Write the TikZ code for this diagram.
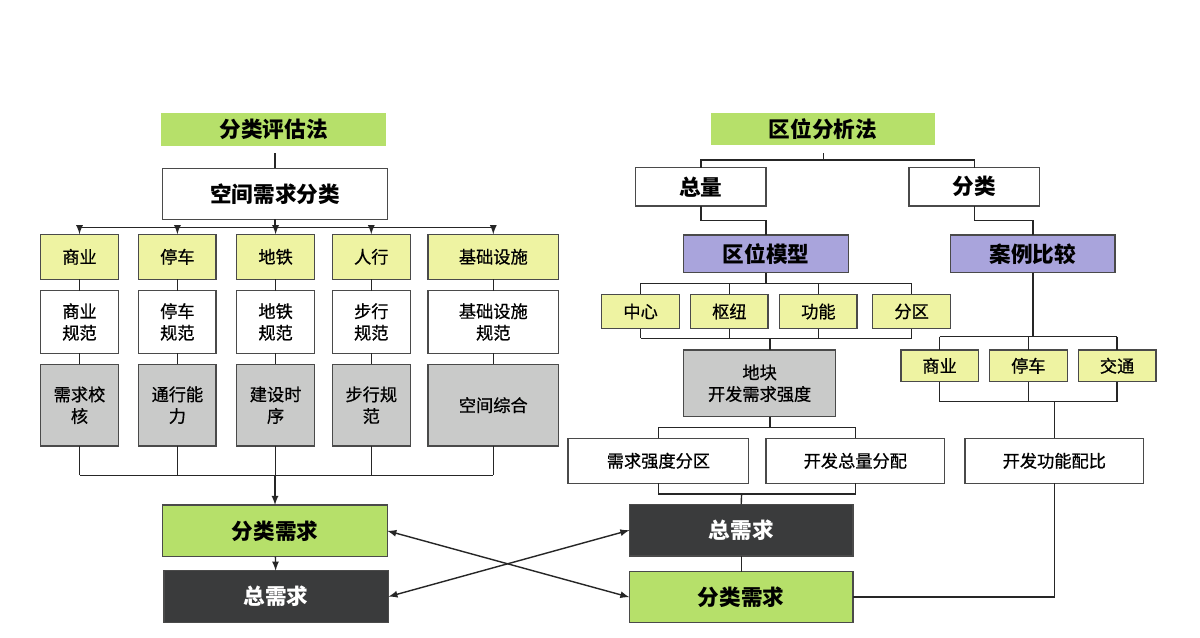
\documentclass[tikz,border=0pt]{standalone}
\usepackage{fontspec}
\setmainfont{Noto Sans CJK SC}
\newfontfamily\medfont[FakeBold=0.7]{Noto Sans CJK SC}
\usetikzlibrary{arrows}

\definecolor{titlegreen}{HTML}{B6E06A}
\definecolor{catyellow}{HTML}{EEF3A2}
\definecolor{modelpurple}{HTML}{A9A4DC}
\definecolor{stepgray}{HTML}{C9CAC9}
\definecolor{darkfill}{HTML}{3A3B3C}
\definecolor{boxline}{HTML}{4A4A4A}

\newcommand{\labbig}{\fontsize{12.3}{14}\selectfont\bfseries}
\newcommand{\labsmall}{\fontsize{9.8}{12.3}\selectfont\medfont}

\tikzset{
  box/.style={draw=boxline,line width=0.8pt,inner sep=0pt,outer sep=0pt,align=center},
  titlebox/.style={fill=titlegreen,inner sep=0pt,outer sep=0pt,font=\labbig},
  mainbox/.style={box,fill=white,font=\labbig},
  catbox/.style={box,fill=catyellow,font=\labsmall},
  normbox/.style={box,fill=white,font=\labsmall},
  graybox/.style={box,fill=stepgray,font=\labsmall},
  modelbox/.style={box,fill=modelpurple,font=\labbig},
  greenbox/.style={box,fill=titlegreen,font=\labbig},
  darkbox/.style={box,fill=darkfill,text=white,font=\labbig},
  link/.style={draw=black!85,line width=0.8pt},
}

\begin{document}
\begin{tikzpicture}[x=0.02cm,y=-0.02cm,>=latex]
  \fill[white] (0,0) rectangle (1200,638);
  \useasboundingbox (0,0) rectangle (1200,638);

  % left: classification method
  \node[titlebox,minimum width=4.49cm,minimum height=0.66cm] (tA) at (273.7,129.2) {分类评估法};
  \node[mainbox,minimum width=4.49cm,minimum height=1.02cm] (kj) at (275,193.8) {空间需求分类};

  \node[catbox,minimum width=1.55cm,minimum height=0.90cm] (sy) at (79.5,256.8) {商业};
  \node[catbox,minimum width=1.55cm,minimum height=0.90cm] (tc) at (177.4,256.8) {停车};
  \node[catbox,minimum width=1.56cm,minimum height=0.90cm] (dt) at (275.6,256.8) {地铁};
  \node[catbox,minimum width=1.56cm,minimum height=0.90cm] (rx) at (371.3,256.8) {人行};
  \node[catbox,minimum width=2.62cm,minimum height=0.90cm] (jc) at (493.3,256.8) {基础设施};

  \node[normbox,minimum width=1.55cm,minimum height=1.25cm] (syg) at (79.5,322) {商业\\规范};
  \node[normbox,minimum width=1.55cm,minimum height=1.25cm] (tcg) at (177.4,322) {停车\\规范};
  \node[normbox,minimum width=1.56cm,minimum height=1.25cm] (dtg) at (275.6,322) {地铁\\规范};
  \node[normbox,minimum width=1.56cm,minimum height=1.25cm] (rxg) at (371.3,322) {步行\\规范};
  \node[normbox,minimum width=2.62cm,minimum height=1.25cm] (jcg) at (493.3,322) {基础设施\\规范};

  \node[graybox,minimum width=1.55cm,minimum height=1.63cm] (syh) at (79.5,405.2) {需求校\\核};
  \node[graybox,minimum width=1.55cm,minimum height=1.63cm] (tch) at (177.4,405.2) {通行能\\力};
  \node[graybox,minimum width=1.56cm,minimum height=1.63cm] (dth) at (275.6,405.2) {建设时\\序};
  \node[graybox,minimum width=1.56cm,minimum height=1.63cm] (rxh) at (371.3,405.2) {步行规\\范};
  \node[graybox,minimum width=2.62cm,minimum height=1.63cm] (jch) at (493.3,405.2) {空间综合};

  \node[greenbox,minimum width=4.49cm,minimum height=1.03cm] (flA) at (275,530.8) {分类需求};
  \node[darkbox,minimum width=4.49cm,minimum height=1.04cm] (zlA) at (276.1,596.7) {总需求};

  % right: location method
  \node[titlebox,minimum width=4.47cm,minimum height=0.65cm] (tB) at (822.9,129) {区位分析法};
  \node[mainbox,minimum width=2.61cm,minimum height=0.77cm] (zl) at (700.8,186.8) {总量};
  \node[mainbox,minimum width=2.61cm,minimum height=0.77cm] (fl) at (974.3,186.8) {分类};
  \node[modelbox,minimum width=3.29cm,minimum height=0.75cm] (qw) at (766,253.8) {区位模型};
  \node[modelbox,minimum width=3.29cm,minimum height=0.75cm] (al) at (1032.9,253.8) {案例比较};

  \node[catbox,minimum width=1.56cm,minimum height=0.69cm] (zx) at (640.6,311.5) {中心};
  \node[catbox,minimum width=1.55cm,minimum height=0.69cm] (sn) at (729.4,311.5) {枢纽};
  \node[catbox,minimum width=1.55cm,minimum height=0.69cm] (gn) at (818.4,311.5) {功能};
  \node[catbox,minimum width=1.56cm,minimum height=0.69cm] (fq) at (911.6,311.5) {分区};

  \node[graybox,minimum width=3.04cm,minimum height=1.33cm] (dk) at (759.6,383.3) {地块\\开发需求强度};

  \node[catbox,minimum width=1.55cm,minimum height=0.63cm] (syB) at (939.6,365.8) {商业};
  \node[catbox,minimum width=1.56cm,minimum height=0.63cm] (tcB) at (1028.4,365.8) {停车};
  \node[catbox,minimum width=1.55cm,minimum height=0.63cm] (jt) at (1117.1,365.8) {交通};

  \node[normbox,minimum width=3.61cm,minimum height=0.90cm] (qd) at (658.4,460.8) {需求强度分区};
  \node[normbox,minimum width=3.57cm,minimum height=0.90cm] (kz) at (855.3,460.8) {开发总量分配};
  \node[normbox,minimum width=3.58cm,minimum height=0.90cm] (pb) at (1054.3,460.8) {开发功能配比};

  \node[darkbox,minimum width=4.47cm,minimum height=1.03cm] (zlB) at (741.2,530.2) {总需求};
  \node[greenbox,minimum width=4.47cm,minimum height=1.02cm] (flB) at (741.2,597.2) {分类需求};

  % left connectors
  \draw[link] (kj.north) -- ++(0,-15);
  \coordinate (b1) at (275,227.7);
  \draw[link] (kj.south) -- (b1);
  \draw[link] (sy |- b1) -- (jc |- b1);
  \foreach \n in {sy,tc,dt,rx,jc}
    \draw[link,->] (\n |- b1) -- (\n.north);
  \foreach \n in {sy,tc,dt,rx,jc}{
    \draw[link] (\n.south) -- (\n g.north);
    \draw[link] (\n g.south) -- (\n h.north);
  }
  \coordinate (b2) at (275,475.3);
  \foreach \n in {syh,tch,dth,rxh,jch}
    \draw[link] (\n.south) -- (\n |- b2);
  \draw[link] (syh |- b2) -- (jch |- b2);
  \draw[link,->] (flA.north |- b2) -- (flA.north);
  \draw[link,->] (flA) -- (zlA);

  % cross arrows
  \draw[link,<->] (flA.east) -- (flB.west);
  \draw[link,<->] (zlA.east) -- (zlB.west);

  % right connectors
  \coordinate (b3) at (823.3,160);
  \draw[link] (b3) -- ++(0,-6.7);
  \draw[link] (zl.north) -- (zl.north |- b3) -- (fl.north |- b3) -- (fl.north);
  \draw[link] (zl.south) -- ++(0,14.7) -| (qw.north);
  \draw[link] (fl.south) -- ++(0,14.7) -| (al.north);

  \coordinate (b4) at (766,283.3);
  \draw[link] (qw.south) -- (b4);
  \draw[link] (zx |- b4) -- (fq |- b4);
  \foreach \n in {zx,sn,gn,fq}
    \draw[link] (\n |- b4) -- (\n.north);
  \coordinate (b5) at (770,338.3);
  \foreach \n in {zx,sn,gn,fq}
    \draw[link] (\n.south) -- (\n |- b5);
  \draw[link] (zx |- b5) -- (fq |- b5);
  \draw[link] (b5) -- (b5 |- dk.north);

  \coordinate (b6) at (1033.5,336.7);
  \draw[link] (al.south) -- (al.south |- b6);
  \draw[link] (syB |- b6) -- (jt |- b6);
  \foreach \n in {syB,tcB,jt}
    \draw[link] (\n |- b6) -- (\n.north);
  \coordinate (b7) at (1053.9,401.7);
  \foreach \n in {syB,tcB,jt}
    \draw[link] (\n.south) -- (\n |- b7);
  \draw[link] (syB |- b7) -- (jt |- b7);
  \draw[link] (pb.north |- b7) -- (pb.north);

  \coordinate (b8) at (770,427.3);
  \draw[link] (b8 |- dk.south) -- (b8);
  \draw[link] (qd |- b8) -- (kz |- b8);
  \draw[link] (qd |- b8) -- (qd.north);
  \draw[link] (kz |- b8) -- (kz.north);
  \coordinate (b9) at (741.6,494);
  \draw[link] (qd.south) -- (qd |- b9) -- (kz |- b9) -- (kz.south);
  \draw[link] (b9) -- (zlB.north);
  \draw[link] (zlB) -- (flB);
  \draw[link] (pb.south) |- (flB.east);
\end{tikzpicture}
\end{document}
